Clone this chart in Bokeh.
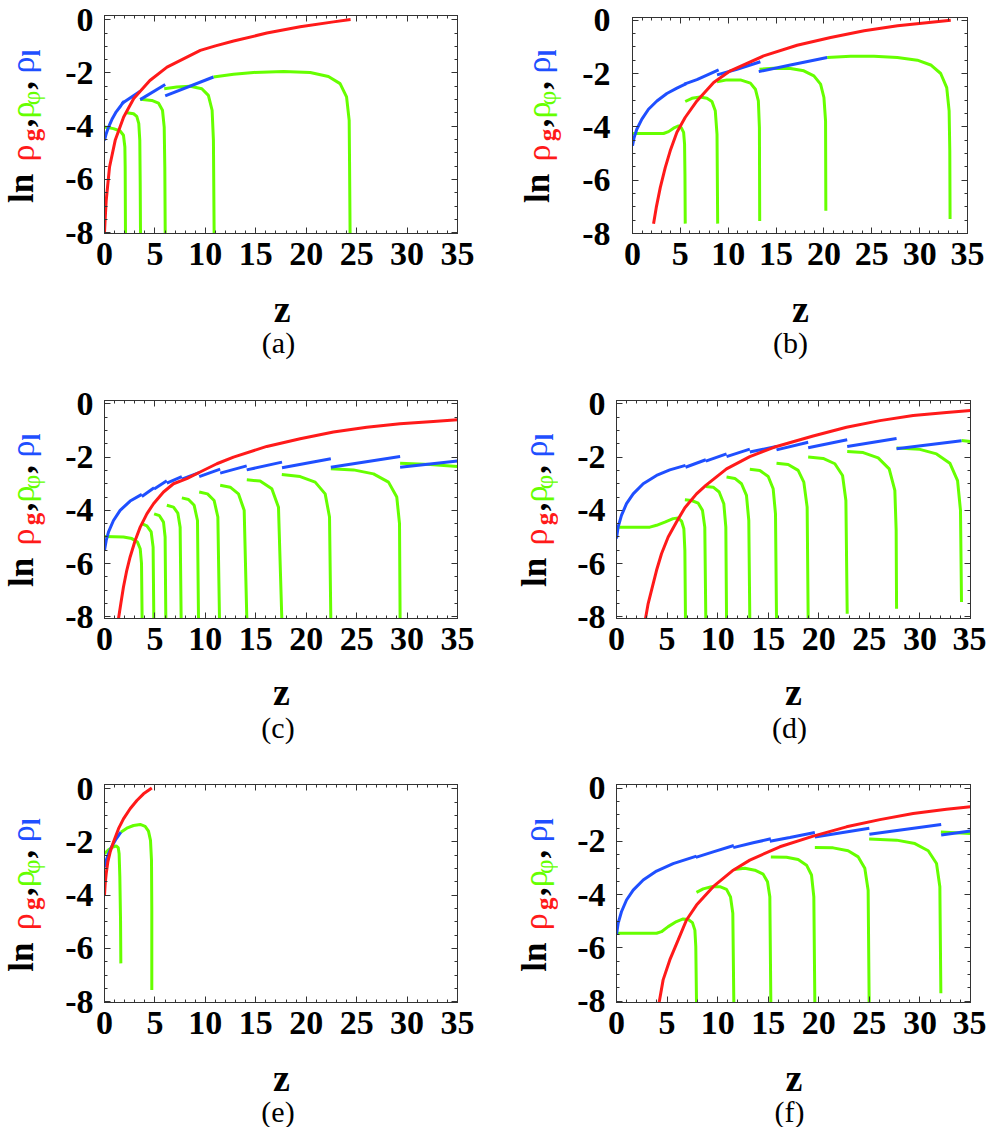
from bokeh.plotting import figure
from bokeh.models import Range1d, FixedTicker, LinearAxis, Label
from bokeh.layouts import column, row
from bokeh.embed import file_html
from bokeh.resources import INLINE

RED = "#ff1a1a"
GREEN = "#66ff00"
BLUE = "#1f4fff"
FRAME = "#333333"
SERIF = "Liberation Serif"

X_MAJOR = [0, 5, 10, 15, 20, 25, 30, 35]
Y_MAJOR = [-8, -6, -4, -2, 0]
Y_LABELS = {-8: "-8", -6: "-6", -4: "-4", -2: "-2", 0: "0"}
X_TITLE = "z"
PANEL_NAMES = ["(a)", "(b)", "(c)", "(d)", "(e)", "(f)"]

# ---------------- panel (a) ----------------
A_RED_Z = [0, 0.05, 0.17, 0.5, 1.06, 1.9, 2.9, 4.5, 6.2, 9.5, 11.0, 12.8, 16.1, 19.4, 22.7, 24.4]
A_RED_LN = [-8.0, -7.6, -6.78, -5.53, -4.53, -3.65, -2.96, -2.28, -1.78, -1.15, -0.98, -0.8, -0.5, -0.26, -0.08, 0.01]
A_BLUE_Z = [[0, 0.17, 0.4, 0.73, 1.16, 1.62, 1.95], [1.72, 3.54], [3.54, 6.02], [6.02, 10.8]]
A_BLUE_LN = [[-4.53, -4.28, -4.03, -3.75, -3.46, -3.23, -3.06], [-3.15, -2.69], [-3.0, -2.43], [-2.86, -2.15]]
A_GREEN_Z = [[0, 0.89, 1.55, 1.88, 2.02, 2.05, 2.08],
             [2.21, 2.88, 3.2, 3.4, 3.5, 3.54, 3.57],
             [3.54, 4.69, 5.35, 5.75, 5.92, 5.98, 6.02],
             [5.92, 7.17, 8.5, 9.65, 10.3, 10.67, 10.8, 10.87],
             [10.8, 12.8, 14.77, 17.75, 20.4, 22.2, 23.36, 24.0, 24.26, 24.3, 24.35]]
A_GREEN_LN = [[-4.03, -4.09, -4.18, -4.34, -4.78, -5.53, -8.03],
              [-3.49, -3.53, -3.63, -3.9, -4.53, -6.15, -8.03],
              [-2.99, -3.03, -3.13, -3.4, -4.03, -5.53, -8.03],
              [-2.59, -2.53, -2.5, -2.59, -2.84, -3.4, -4.53, -8.03],
              [-2.15, -2.05, -1.98, -1.94, -1.98, -2.13, -2.4, -2.9, -3.78, -5.53, -8.03]]

# ---------------- panel (b) ----------------
B_RED_Z = [2.2, 2.48, 2.9, 3.42, 3.94, 4.64, 5.5, 6.73, 8.48, 10.22, 13.7, 17.2, 20.7, 24.2, 27.7, 33.25]
B_RED_LN = [-7.63, -7.03, -6.28, -5.53, -4.9, -4.2, -3.65, -3.03, -2.34, -1.9, -1.34, -0.94, -0.65, -0.4, -0.21, 0.0]
B_BLUE_Z = [[0, 0.17, 0.45, 0.98, 1.67, 2.55, 3.59, 4.64, 5.62], [5.41, 6.73, 9.0], [8.83, 10.92, 13.36], [13.19, 16.5, 20.34]]
B_BLUE_LN = [[-4.71, -4.4, -4.09, -3.71, -3.34, -3.03, -2.75, -2.55, -2.38], [-2.4, -2.23, -1.86], [-2.05, -1.84, -1.56], [-1.93, -1.68, -1.4]]
B_GREEN_Z = [[0, 3.24, 3.77, 4.29, 4.82, 5.09, 5.34, 5.44, 5.48, 5.51],
             [5.51, 6.21, 7.08, 7.78, 8.3, 8.65, 8.83, 8.9],
             [8.83, 9.87, 11.27, 12.32, 12.84, 13.15, 13.26, 13.29],
             [13.26, 14.76, 16.5, 17.9, 18.95, 19.65, 20.0, 20.17, 20.2],
             [20.34, 22.78, 25.23, 27.67, 29.76, 31.16, 32.2, 32.83, 33.08, 33.15, 33.18]]
B_GREEN_LN = [[-4.25, -4.25, -4.18, -4.05, -3.96, -4.03, -4.21, -4.65, -5.78, -7.63],
              [-3.05, -2.93, -2.88, -2.93, -3.05, -3.4, -4.28, -7.63],
              [-2.31, -2.24, -2.24, -2.36, -2.59, -3.03, -4.03, -7.53],
              [-1.84, -1.8, -1.81, -1.9, -2.09, -2.4, -2.9, -3.78, -7.15],
              [-1.4, -1.35, -1.35, -1.4, -1.5, -1.68, -2.0, -2.53, -3.4, -4.9, -7.46]]

# ---------------- panel (c) ----------------
C_RED_Z = [1.39, 1.62, 1.88, 2.21, 2.54, 3.04, 3.54, 4.2, 4.86, 5.85, 6.84, 8.16, 9.48, 11.14, 12.79, 16.09, 19.4, 22.7, 26.0, 29.3, 32.6, 35.0]
C_RED_LN = [-8.06, -7.5, -6.88, -6.25, -5.75, -5.13, -4.63, -4.13, -3.75, -3.31, -3.0, -2.81, -2.56, -2.25, -2.0, -1.6, -1.31, -1.06, -0.88, -0.75, -0.66, -0.6]
C_BLUE_Z = [[0, 0.17, 0.4, 0.89, 1.55, 2.54, 3.7], [3.7, 4.92], [4.92, 6.18], [6.18, 7.67], [7.67, 9.39], [9.39, 11.47],
            [11.47, 14.1], [14.1, 17.6], [17.6, 22.44], [22.44, 29.31], [29.31, 35.0]]
C_BLUE_LN = [[-5.5, -5.13, -4.81, -4.38, -4.0, -3.65, -3.4], [-3.48, -3.15], [-3.2, -2.89], [-2.98, -2.73], [-2.83, -2.58], [-2.73, -2.45],
             [-2.6, -2.33], [-2.48, -2.19], [-2.4, -2.06], [-2.38, -1.98], [-2.38, -2.15]]
C_GREEN_Z = [[0, 1.88, 2.71, 3.27, 3.54, 3.67, 3.73],
             [3.7, 4.2, 4.63, 4.82, 4.89],
             [4.92, 5.45, 5.85, 6.01, 6.08],
             [6.18, 6.84, 7.27, 7.5, 7.6],
             [7.67, 8.33, 8.89, 9.22, 9.32],
             [9.39, 10.21, 10.87, 11.24, 11.4],
             [11.47, 12.46, 13.28, 13.85, 14.11],
             [14.11, 15.43, 16.59, 17.25, 17.58],
             [17.58, 19.4, 20.89, 21.88, 22.31, 22.44],
             [22.44, 24.69, 26.67, 28.16, 28.98, 29.25, 29.31],
             [29.31, 32.29, 35.0]]
C_GREEN_LN = [[-4.98, -5.0, -5.06, -5.19, -5.44, -6.0, -8.06],
              [-4.5, -4.58, -4.81, -5.38, -8.06],
              [-4.13, -4.2, -4.44, -5.0, -8.06],
              [-3.81, -3.88, -4.1, -4.63, -8.06],
              [-3.53, -3.59, -3.81, -4.38, -8.06],
              [-3.31, -3.38, -3.63, -4.25, -8.06],
              [-3.06, -3.13, -3.38, -4.0, -8.06],
              [-2.85, -2.9, -3.19, -3.88, -8.06],
              [-2.65, -2.73, -2.94, -3.38, -4.25, -8.06],
              [-2.44, -2.48, -2.63, -2.94, -3.5, -4.5, -8.06],
              [-2.23, -2.28, -2.35]]

# ---------------- panel (d) ----------------
D_RED_Z = [2.87, 3.13, 3.46, 3.96, 4.45, 5.11, 5.93, 6.76, 7.91, 8.83, 10.88, 13.18, 15.82, 19.44, 22.74, 26.04, 29.33, 32.63, 35.0]
D_RED_LN = [-8.06, -7.5, -7.0, -6.25, -5.63, -5.0, -4.44, -3.9, -3.38, -3.06, -2.44, -1.98, -1.6, -1.21, -0.88, -0.63, -0.44, -0.33, -0.25]
D_BLUE_Z = [[0, 0.16, 0.49, 0.99, 1.65, 2.64, 3.96, 5.27, 6.82], [6.82, 8.83], [8.83, 10.88], [10.88, 13.18], [13.18, 15.82],
            [15.82, 18.95], [18.95, 22.81], [22.81, 27.69], [27.69, 34.11]]
D_BLUE_LN = [[-5.06, -4.63, -4.19, -3.75, -3.38, -3.0, -2.69, -2.48, -2.31], [-2.38, -2.1], [-2.15, -1.88], [-1.98, -1.7], [-1.81, -1.6],
             [-1.73, -1.44], [-1.65, -1.35], [-1.6, -1.3], [-1.69, -1.39]]
D_GREEN_Z = [[0, 3.3, 3.96, 4.78, 5.6, 6.1, 6.43, 6.66, 6.76, 6.82],
             [6.76, 7.42, 8.08, 8.5, 8.73, 8.83],
             [8.83, 9.56, 10.15, 10.61, 10.81, 10.88],
             [10.88, 11.7, 12.36, 12.85, 13.08, 13.18],
             [13.18, 14.17, 15.0, 15.49, 15.72, 15.82],
             [15.82, 16.97, 17.96, 18.52, 18.85, 18.95],
             [18.95, 20.43, 21.59, 22.35, 22.68, 22.81],
             [22.81, 24.39, 25.87, 26.96, 27.52, 27.65, 27.69],
             [27.69, 29.99, 31.64, 32.96, 33.72, 34.01, 34.11],
             [34.11, 35.0]]
D_GREEN_LN = [[-4.63, -4.63, -4.56, -4.44, -4.31, -4.29, -4.4, -4.69, -5.5, -8.06],
              [-3.6, -3.63, -3.73, -4.0, -4.63, -8.06],
              [-3.1, -3.13, -3.31, -3.75, -4.63, -8.06],
              [-2.75, -2.8, -3.0, -3.44, -4.38, -8.06],
              [-2.46, -2.5, -2.73, -3.19, -4.13, -8.06],
              [-2.23, -2.28, -2.5, -2.94, -3.88, -8.06],
              [-2.0, -2.05, -2.25, -2.69, -3.63, -7.88],
              [-1.79, -1.83, -2.03, -2.44, -3.25, -4.75, -7.69],
              [-1.66, -1.71, -1.88, -2.23, -2.88, -4.0, -7.44],
              [-1.38, -1.41]]

# ---------------- panel (e) ----------------
E_RED_Z = [0, 0.07, 0.17, 0.33, 0.56, 0.89, 1.39, 1.88, 2.54, 3.21, 3.87, 4.69]
E_RED_LN = [-4.0, -3.56, -3.19, -2.75, -2.38, -2.0, -1.5, -1.13, -0.75, -0.44, -0.19, 0.03]
E_BLUE_Z = [[0, 0.17, 0.4, 0.73, 1.16, 1.62]]
E_BLUE_LN = [[-2.94, -2.69, -2.44, -2.16, -1.88, -1.63]]
E_GREEN_Z = [[0, 0.4, 0.83, 1.16, 1.36, 1.45, 1.52, 1.59, 1.62],
             [1.62, 2.21, 2.88, 3.54, 4.03, 4.36, 4.56, 4.66, 4.69, 4.69]]
E_GREEN_LN = [[-2.44, -2.29, -2.19, -2.15, -2.21, -2.44, -3.31, -4.94, -6.56],
              [-1.63, -1.48, -1.38, -1.34, -1.41, -1.59, -1.94, -2.69, -4.56, -7.56]]

# ---------------- panel (f) ----------------
F_RED_Z = [4.22, 4.61, 5.27, 6.1, 6.92, 7.91, 9.56, 11.54, 13.18, 16.15, 19.45, 22.74, 26.04, 29.33, 32.63, 35.0]
F_RED_LN = [-8.04, -7.2, -6.45, -5.7, -4.95, -4.39, -3.7, -3.08, -2.7, -2.2, -1.8, -1.45, -1.18, -0.95, -0.79, -0.7]
F_BLUE_Z = [[0, 0.16, 0.49, 0.99, 1.65, 2.64, 3.96, 5.6, 7.91], [7.84, 9.56, 11.6], [11.54, 13.51, 15.26], [15.16, 17.14, 19.61],
            [19.61, 25.0], [25.0, 32.1], [32.1, 35.0]]
F_BLUE_LN = [[-5.51, -5.08, -4.64, -4.2, -3.83, -3.45, -3.11, -2.83, -2.55], [-2.6, -2.39, -2.15], [-2.23, -2.05, -1.9], [-1.99, -1.85, -1.66],
             [-1.83, -1.5], [-1.73, -1.36], [-1.76, -1.61]]
F_GREEN_Z = [[0, 3.96, 4.45, 5.11, 5.93, 6.59, 7.09, 7.51, 7.75, 7.84, 7.91],
             [7.91, 8.57, 9.39, 10.22, 10.88, 11.27, 11.5, 11.6],
             [11.6, 12.69, 13.68, 14.5, 14.93, 15.16, 15.26],
             [15.26, 16.81, 17.96, 18.79, 19.28, 19.51, 19.61],
             [19.61, 21.42, 22.9, 23.9, 24.55, 24.88, 24.98],
             [24.98, 27.69, 29.5, 30.82, 31.64, 31.97, 32.07],
             [32.07, 35.0]]
F_GREEN_LN = [[-5.45, -5.45, -5.39, -5.2, -5.01, -4.91, -4.93, -5.05, -5.33, -5.95, -8.04],
              [-3.91, -3.78, -3.7, -3.7, -3.8, -4.08, -4.7, -8.04],
              [-3.05, -3.01, -3.08, -3.23, -3.51, -4.08, -8.04],
              [-2.58, -2.59, -2.68, -2.89, -3.26, -4.08, -8.04],
              [-2.23, -2.24, -2.35, -2.58, -3.01, -3.83, -8.04],
              [-1.91, -1.95, -2.08, -2.35, -2.83, -3.7, -7.7],
              [-1.64, -1.7]]

PANEL_DATA = [
    (A_RED_Z, A_RED_LN, A_BLUE_Z, A_BLUE_LN, A_GREEN_Z, A_GREEN_LN),
    (B_RED_Z, B_RED_LN, B_BLUE_Z, B_BLUE_LN, B_GREEN_Z, B_GREEN_LN),
    (C_RED_Z, C_RED_LN, C_BLUE_Z, C_BLUE_LN, C_GREEN_Z, C_GREEN_LN),
    (D_RED_Z, D_RED_LN, D_BLUE_Z, D_BLUE_LN, D_GREEN_Z, D_GREEN_LN),
    (E_RED_Z, E_RED_LN, E_BLUE_Z, E_BLUE_LN, E_GREEN_Z, E_GREEN_LN),
    (F_RED_Z, F_RED_LN, F_BLUE_Z, F_BLUE_LN, F_GREEN_Z, F_GREEN_LN),
]

# page geometry (pixels)
ROW_TOP = [0, 380, 765]
ROW_H = [380, 385, 362]
MAIN_H = [285, 290, 289]
CELL_X0 = [0, 496]
CELL_W = [496, 490]

# per panel: lab_w, frame_left, frame_top, frame_w, frame_h, y_lo, y_hi,
#            ytick_standoff, xtick_standoff, label_baseline_x, ln_bottom_y, z_x, z_base, cap_x, cap_base
GEOM = [
    (48, 104, 15, 353, 218, -8.03, 0.16, 11, 9, 33, 203, 281.7, 308, 278, 342),
    (66, 632, 17, 335, 216, -8.0, 0.10, 22, 9, 549, 203, 800, 308, 790, 342),
    (48, 104, 400, 353, 218, -8.06, 0.125, 11, 9, 33, 587, 281, 691, 277.5, 727),
    (62, 616, 400, 354, 218, -8.06, 0.125, 11, 9, 546, 587, 793, 691, 789, 727),
    (48, 104, 784, 353, 218, -8.03, 0.16, 11, 9, 33, 971.7, 281, 1077, 277.5, 1111),
    (62, 616, 784, 354, 218, -8.05, 0.14, 11, 9, 546, 971.7, 793.5, 1077, 789, 1111),
]

# pieces of the rotated y label:
# text, colour, centre offset along the text (from the start), baseline shift, size, style
YLABEL_PIECES = [
    ("ln", "black", 15, 0, 35, "bold"),
    ("\u03c1", RED, 50.5, 0, 34, "normal"),
    ("g", RED, 68.5, 6, 25, "bold"),
    (",", "black", 80.5, 0, 34, "bold"),
    ("\u03c1", GREEN, 93.5, 0, 34, "normal"),
    ("\u03c6", GREEN, 105.5, 6, 25, "normal"),
    (",", "black", 118, 0, 34, "bold"),
    ("\u03c1", BLUE, 138.5, 0, 34, "normal"),
    ("l", BLUE, 150.5, 6, 25, "bold"),
]
ASC_MINUS_DESC = 0.3375  # half of (ascent - descent) in em, Liberation Serif


def blank_fig(w, h, x_range, y_range, bt=0, bb=0):
    f = figure(width=w, height=h, output_backend="svg", toolbar_location=None,
               x_range=x_range, y_range=y_range, x_axis_type=None, y_axis_type=None)
    f.min_border_left = 0
    f.min_border_right = 0
    f.min_border_top = bt
    f.min_border_bottom = bb
    f.outline_line_color = None
    f.xgrid.visible = False
    f.ygrid.visible = False
    f.background_fill_color = "white"
    f.border_fill_color = "white"
    return f


def style_axis(ax, show_labels, standoff):
    ax.axis_line_color = FRAME
    ax.axis_line_width = 1
    ax.major_tick_line_color = FRAME
    ax.minor_tick_line_color = FRAME
    ax.major_tick_in = 6
    ax.major_tick_out = 0
    ax.minor_tick_in = 3
    ax.minor_tick_out = 0
    if show_labels:
        ax.major_label_standoff = standoff
        ax.major_label_text_font = SERIF
        ax.major_label_text_font_style = "bold"
        ax.major_label_text_font_size = "34px"
        ax.major_label_text_color = "black"
    else:
        ax.major_label_standoff = 0
        ax.major_label_text_color = None
        ax.major_label_text_font_size = "2px"


def make_cell(i):
    r, c = divmod(i, 2)
    red_z, red_ln, blue_z, blue_ln, green_z, green_ln = PANEL_DATA[i]
    (lab_w, fl, ft, fw, fh, ylo, yhi, ysoff, xsoff, lbx, lnb, zx, zb, cx, cb) = GEOM[i]
    x0, cw = CELL_X0[c], CELL_W[c]
    rt, rh, mh = ROW_TOP[r], ROW_H[r], MAIN_H[r]
    main_w = cw - lab_w
    bl = fl - x0 - lab_w
    br = main_w - bl - fw
    bt = ft - rt
    bb = mh - bt - fh

    p = figure(width=main_w, height=mh, output_backend="svg", toolbar_location=None,
               x_range=Range1d(0, 35), y_range=Range1d(ylo, yhi),
               x_axis_type=None, y_axis_type=None)
    p.min_border_left = bl
    p.min_border_right = br
    p.min_border_top = bt
    p.min_border_bottom = bb
    p.outline_line_color = FRAME
    p.background_fill_color = "white"
    p.border_fill_color = "white"
    p.xgrid.visible = False
    p.ygrid.visible = False

    xt = FixedTicker(ticks=X_MAJOR, minor_ticks=list(range(0, 36)))
    yt = FixedTicker(ticks=Y_MAJOR, minor_ticks=[v * 0.5 for v in range(-16, 1)])

    xb = LinearAxis(ticker=xt)
    style_axis(xb, True, xsoff)
    p.add_layout(xb, "below")
    yl = LinearAxis(ticker=yt, major_label_overrides=Y_LABELS)
    style_axis(yl, True, ysoff)
    p.add_layout(yl, "left")
    xa = LinearAxis(ticker=xt)
    style_axis(xa, False, 0)
    p.add_layout(xa, "above")
    yr = LinearAxis(ticker=yt)
    style_axis(yr, False, 0)
    p.add_layout(yr, "right")

    p.multi_line(green_z, green_ln, line_color=GREEN, line_width=3)
    p.multi_line(blue_z, blue_ln, line_color=BLUE, line_width=3)
    p.line(red_z, red_ln, line_color=RED, line_width=3)

    # rotated, multi-coloured y label in a narrow figure on the left;
    # its frame spans the same rows as the plot frame, with y = -(page y)
    lab = blank_fig(lab_w, mh, Range1d(0, lab_w), Range1d(-(ft + fh), -ft), bt=bt, bb=bb)
    for text, col, off, shift, size, style in YLABEL_PIECES:
        cx_page = lbx + shift - ASC_MINUS_DESC * size
        cy_page = lnb - off
        lab.add_layout(Label(x=cx_page - x0, y=-cy_page, text=text,
                             angle=90, angle_units="deg",
                             text_align="center", text_baseline="middle",
                             text_color=col, text_font=SERIF, text_font_style=style,
                             text_font_size=f"{size}px"))

    # axis title and panel caption in a strip under the plot
    cap_h = rh - mh
    cap = blank_fig(cw, cap_h, Range1d(0, cw), Range1d(0, cap_h))
    cap_bottom = rt + rh
    cap.add_layout(Label(x=zx - x0, y=cap_bottom - zb, text=X_TITLE, text_align="center",
                         text_baseline="alphabetic", text_color="black", text_font=SERIF,
                         text_font_style="bold", text_font_size="38px"))
    cap.add_layout(Label(x=cx - x0, y=cap_bottom - cb, text=PANEL_NAMES[i], text_align="center",
                         text_baseline="alphabetic", text_color="black", text_font=SERIF,
                         text_font_style="normal", text_font_size="30px"))
    return column(row(lab, p), cap)


cells = [make_cell(i) for i in range(6)]
layout = column(row(cells[0], cells[1]), row(cells[2], cells[3]), row(cells[4], cells[5]))

open("out.html", "w").write(file_html(layout, INLINE))
